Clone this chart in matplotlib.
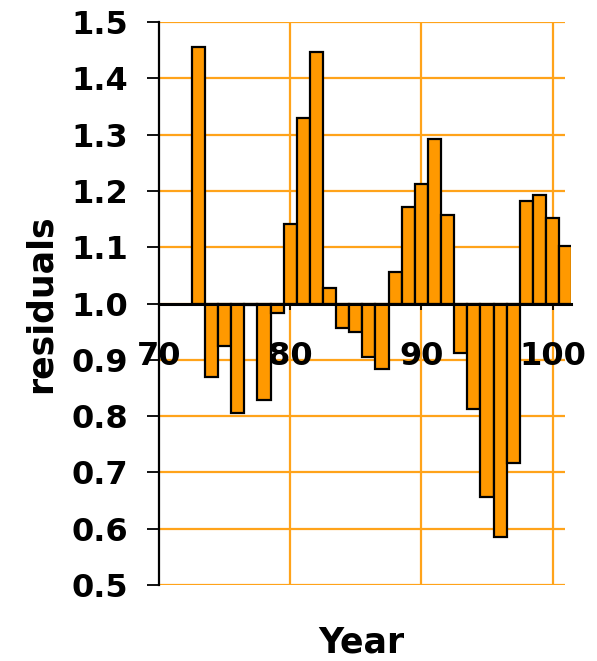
import matplotlib
matplotlib.use("Agg")
import matplotlib.pyplot as plt
import numpy as np

years = list(range(73, 102))
residuals = [1.456, 0.870, 0.925, 0.805, 0.997, 0.829, 0.983, 1.141, 1.330, 1.446,
             1.028, 0.956, 0.950, 0.905, 0.884, 1.056, 1.172, 1.213, 1.292, 1.158,
             0.912, 0.813, 0.657, 0.586, 0.716, 1.182, 1.192, 1.151, 1.103]
x_ticks = [70, 80, 90, 100]
y_ticks = [0.5, 0.6, 0.7, 0.8, 0.9, 1.0, 1.1, 1.2, 1.3, 1.4, 1.5]
y_labels = ["0.5", "0.6", "0.7", "0.8", "0.9", "1.0", "1.1", "1.2", "1.3", "1.4", "1.5"]

plt.rcParams['font.family'] = ['DejaVu Sans']
plt.rcParams['font.weight'] = 'bold'

fig = plt.figure(figsize=(5.97, 6.61), dpi=100)
ax = fig.add_axes([159/597, 76/661, 412/597, 563/661])

grid_c = '#FFA31A'
base = 1.0
heights = [r - base for r in residuals]
ax.bar(years, heights, bottom=base, width=1.0, color='#FF9900',
       edgecolor='black', linewidth=1.6, zorder=3)

ax.set_xlim(70, 101.4)
ax.set_ylim(0.5, 1.5)

# gridlines
ax.hlines(y_ticks, 70, 100.95, colors=grid_c, linewidth=1.6, zorder=1)
for xv in x_ticks[1:]:
    ax.axvline(xv, color=grid_c, linewidth=1.6, zorder=1)

for s in ['top', 'right']:
    ax.spines[s].set_visible(False)
ax.spines['left'].set_linewidth(1.6)
ax.spines['left'].set_zorder(4)
ax.spines['bottom'].set_position(('data', 1.0))
ax.spines['bottom'].set_linewidth(2.2)
ax.spines['bottom'].set_zorder(5)

ax.set_yticks(y_ticks)
ax.set_yticklabels(y_labels)
ax.set_xticks(x_ticks)
ax.set_xticklabels([str(v) for v in x_ticks])
ax.tick_params(axis='y', direction='out', length=9, width=1.3, pad=13,
               labelsize=23)
ax.tick_params(axis='x', direction='out', length=4, width=1.3, pad=23,
               labelsize=23)
for lab in ax.get_xticklabels() + ax.get_yticklabels():
    lab.set_fontweight('bold')

ax.set_xlabel('Year', fontsize=25, fontweight='bold')
ax.xaxis.set_label_coords(0.49, -0.072)
ax.set_ylabel('residuals', fontsize=25, fontweight='bold')
ax.yaxis.set_label_coords(-0.245, 0.5)

fig.savefig('out.png', dpi=100)
